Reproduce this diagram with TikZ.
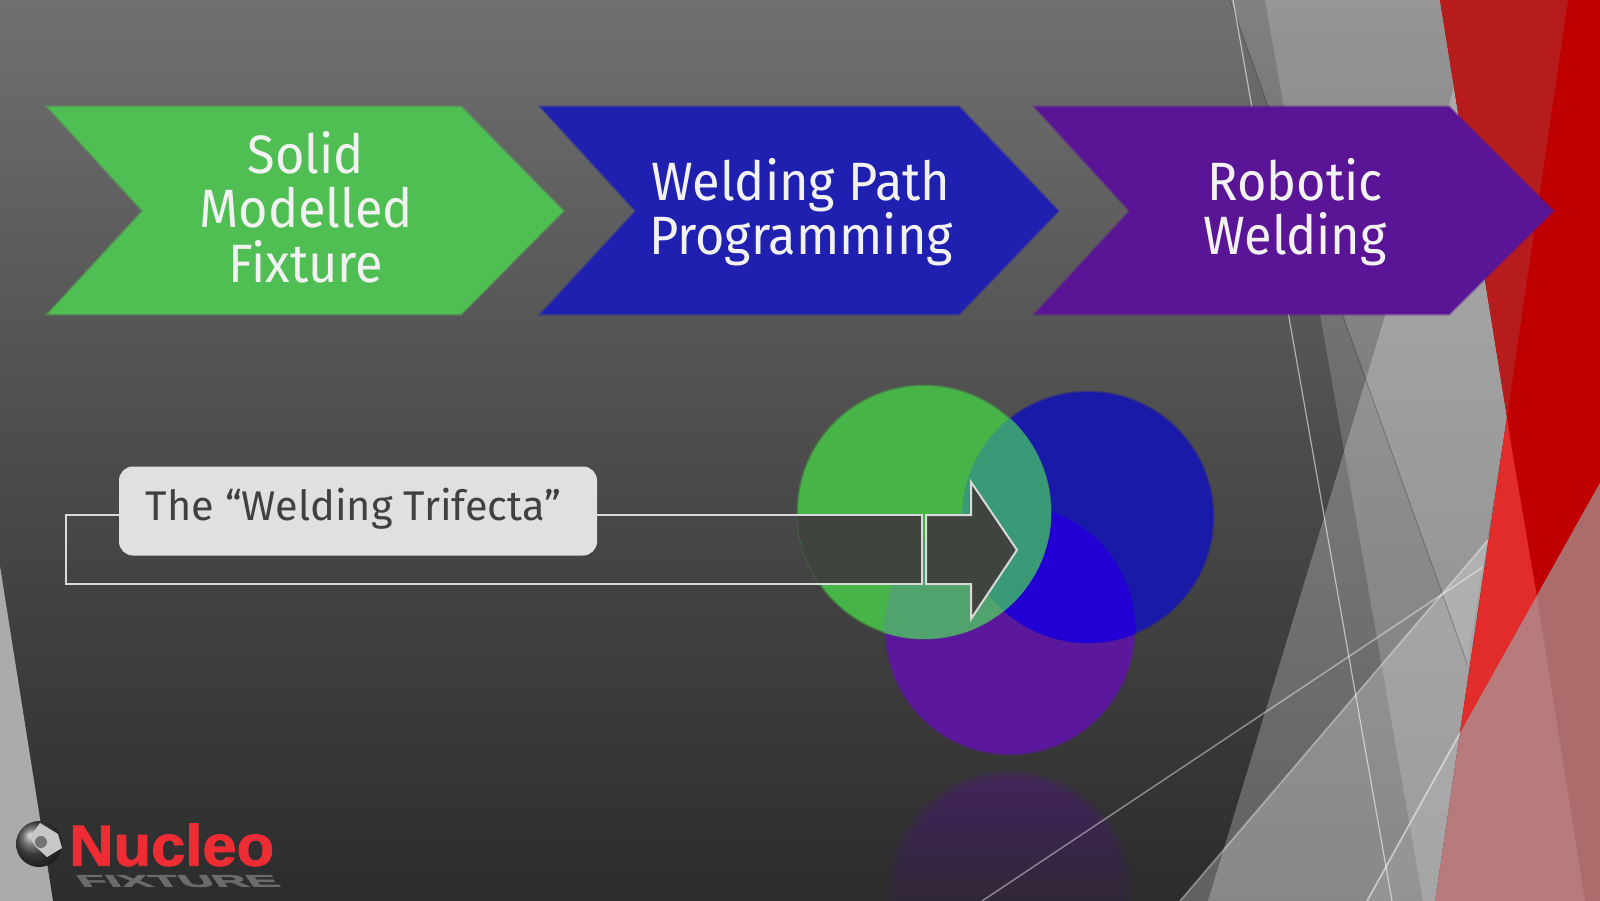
\documentclass[tikz,border=0pt]{standalone}
\usepackage{fontspec}
\setmainfont{Fira Sans}
\newfontfamily\chevfont[FakeStretch=0.935]{Fira Sans}
\newfontfamily\logofont[FakeBold=1.6,FakeStretch=1.06]{Liberation Sans Bold}
\newfontfamily\logosubfont[FakeBold=2.5]{Liberation Sans Bold}
\definecolor{cgreen}{HTML}{50BF53}
\definecolor{cblue}{HTML}{1F1FB0}
\definecolor{cpurple}{HTML}{5A1496}
\definecolor{ctxt}{HTML}{F2F2F2}
\definecolor{cbgtop}{HTML}{707070}
\definecolor{cbgmid}{HTML}{4C4C4C}
\definecolor{cbgbot}{HTML}{2C2C2C}
\definecolor{credbright}{HTML}{C00000}
\definecolor{creddark}{HTML}{B71C1C}
\definecolor{credlight}{HTML}{E22C2C}
\definecolor{cpink}{HTML}{B87B7B}
\definecolor{cpinkdark}{HTML}{AD6C6C}
\definecolor{cgreenc}{HTML}{46B446}
\definecolor{cbluec}{HTML}{1A1AA8}
\definecolor{cpurplec}{HTML}{5C189C}
\definecolor{cbp}{HTML}{2200D4}
\definecolor{cgb}{HTML}{3A9A78}
\definecolor{cgp}{HTML}{50A36C}
\definecolor{clogored}{HTML}{EE2C34}
\definecolor{carrowfill}{HTML}{40443E}
\tikzset{
  x=1pt,y=-1pt,
  chevron/.style={fill=#1,draw=#1,draw opacity=0.45,line width=3pt,line join=miter},
  chevtext/.style={text=ctxt,align=center,font=\chevfont\fontsize{54}{54.5}\selectfont,inner sep=0pt},
  facet/.style={fill=white,fill opacity=#1,draw=none},
  softcircle/.style={fill=#1,draw=#1,draw opacity=0.45,line width=3pt},
  outlineshape/.style={draw=white!85!black,line width=2pt,line join=miter},
}
\begin{document}
\begin{tikzpicture}
\useasboundingbox (0,0) rectangle (1600,901);
% background
\fill[top color=cbgtop,bottom color=cbgbot,middle color=cbgmid] (0,0) rectangle (1600,901);
% reflection of the purple circle, soft edged
\foreach \r in {124,122,120,118,116,113} {
  \begin{scope}
    \clip (1010,894) circle (\r);
    \shade[top color=cpurple,bottom color=cpurple!30!cbgbot,fill opacity=0.09] (880,770) rectangle (1140,901);
  \end{scope}
}
% grey facets
\path[facet=0.12] (1230,0) -- (1440,0) -- (1507,417) -- (1467,663) -- cycle;
\path[facet=0.17] (1265,0) -- (1440,0) -- (1507,417) -- (1435,901) -- (1423,901) -- cycle;
\path[facet=0.25] (1454,88) -- (1507,417) -- (1435,901) -- (1208,901) -- cycle;
\path[facet=0.25] (1180,901) -- (1488,540) -- (1435,901) -- cycle;
\path[facet=0.10] (1367,901) -- (1460,733) -- (1435,901) -- cycle;
\draw[black,opacity=0.22,line width=1pt] (1230,0) -- (1467,663);
\draw[white,opacity=0.55,line width=1.2pt] (1233,0) -- (1392,901);
\draw[white,opacity=0.42,line width=1.5pt] (982,901) -- (1483,567);
\draw[white,opacity=0.35,line width=1.8pt] (1180,901) -- (1488,540);
\draw[white,opacity=0.5,line width=1.8pt] (1367,901) -- (1460,733);
% left-bottom facet
\fill[black!33] (0,566) -- (53,901) -- (0,901) -- cycle;
% red facets
\fill[credbright] (1440,0) -- (1600,0) -- (1600,483) -- (1460,733) -- (1507,417) -- cycle;
\fill[creddark] (1440,0) -- (1568,0) -- (1507,417) -- cycle;
\fill[credlight] (1507,417) -- (1512,450) -- (1537,597) -- (1460,733) -- cycle;
% pink facets
\fill[cpink] (1460,733) -- (1600,483) -- (1600,901) -- (1435,901) -- cycle;
\fill[cpinkdark] (1537,597) -- (1600,483) -- (1600,901) -- (1585,901) -- cycle;
% chevrons
\path[chevron=cgreen] (48,107) -- (461,107) -- (563,211) -- (461,314) -- (48,314) -- (143,211) -- cycle;
\path[chevron=cblue] (541,107) -- (959,107) -- (1058,211) -- (959,314) -- (541,314) -- (636,211) -- cycle;
\path[chevron=cpurple] (1035,107) -- (1449,107) -- (1553,211) -- (1449,314) -- (1035,314) -- (1130,211) -- cycle;
\node[chevtext] (solid) at (306,207) {Solid\\Modelled\\Fixture};
\node[chevtext] (path) at (801,212) {Welding Path\\Programming};
\node[chevtext] (robotic) at (1295,212) {Robotic\\Welding};
% circles
\path[softcircle=cpurplec] (1010,630) circle (124);
\path[softcircle=cbluec] (1088,517) circle (125);
\begin{scope}
\clip (1010,630) circle (125.5);
\fill[cbp] (1088,517) circle (126);
\end{scope}
\path[softcircle=cgreenc] (924,512) circle (126);
\begin{scope}
\clip (924,512) circle (127);
\fill[cgb] (1088,517) circle (126);
\fill[cgp] (1010,630) circle (126);
\begin{scope}
\clip (1088,517) circle (126);
\fill[cgb] (1010,630) circle (126);
\end{scope}
\end{scope}
% outline arrow: dark only where it lies over the circles
\begin{scope}
\clip (924,512) circle (127);
\fill[carrowfill] (66,515) rectangle (922,584);
\end{scope}
\path[outlineshape] (66,515) rectangle (922,584);
\path[outlineshape,fill=carrowfill] (926,515) -- (971,515) -- (971,482) -- (1017,550) -- (971,619) -- (971,584) -- (926,584) -- cycle;
% label
\node[fill=black!12,rounded corners=14pt,minimum width=478pt,minimum height=89pt,inner sep=0pt] (label) at (358,511) {};
\node[text=black!75,inner sep=0pt,font=\fontsize{41.5}{41.5}\selectfont] (labeltext) at (353.5,509) {The “Welding Trifecta”};
% logo
\shade[ball color=black!70] (39,844) circle (23);
\fill[black!22] (30,837) -- (40,823) -- (58,834) -- (62,848) -- (47,857) -- (35,846) -- cycle;
\fill[black!55] (41,842) circle (6);
\node[font=\logofont\fontsize{58}{58}\selectfont,text=clogored,inner sep=0pt,anchor=west] (nucleo) at (69,845) {Nucleo};
\node[font=\logosubfont\fontsize{17}{17}\selectfont,text=black!58,inner sep=0pt,anchor=center,transform shape,xscale=2.75,xslant=-0.25] (fixture) at (178,881) {FIXTURE};
\end{tikzpicture}
\end{document}
